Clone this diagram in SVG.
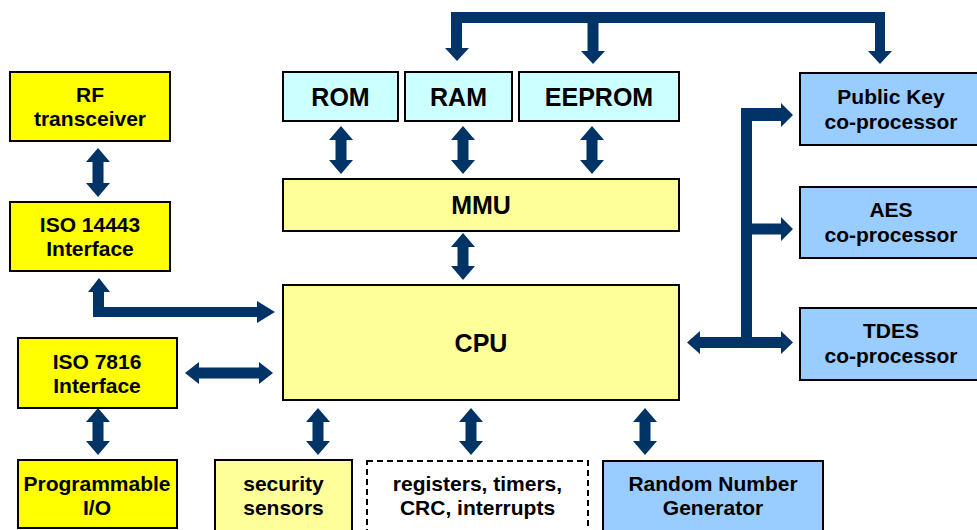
<svg xmlns="http://www.w3.org/2000/svg" width="977" height="530" viewBox="0 0 977 530">
  <style>
    .box { stroke: #000; stroke-width: 2; }
    .ifc { fill: #FFFF00; }
    .core { fill: #FFFF99; }
    .mem { fill: #CCFFFF; }
    .cop { fill: #99CCFF; }
    .dash { fill: #FFFFFF; stroke-dasharray: 6 4; }
    .lbl { font-family: "Liberation Sans", Arial, sans-serif; font-weight: bold; font-size: 21px; fill: #000; text-anchor: middle; }
    .big { font-size: 25px; }
    .arrow { fill: #003366; }
  </style>

  <rect width="977" height="530" fill="#FFFFFF"/>

  <!-- connectors (block arrows) -->
  <g id="connectors" class="arrow">
    <!-- RF transceiver <-> ISO 14443 -->
    <polygon points="98,148 110,162 103.5,162 103.5,183 110,183 98,197 86,183 92.5,183 92.5,162 86,162"/>
    <!-- ISO 14443 -> CPU (elbow) -->
    <polygon points="99,278 110,292 104,292 104,307 257,307 257,301 275,312 257,323 257,317 93,317 93,292 88,292"/>
    <!-- ISO 7816 <-> CPU -->
    <polygon points="185,373 199,362 199,367.5 259,367.5 259,362 273,373 259,384 259,378.5 199,378.5 199,384"/>
    <!-- ISO 7816 <-> Programmable I/O -->
    <polygon points="98,408 110,422 103.5,422 103.5,441 110,441 98,455 86,441 92.5,441 92.5,422 86,422"/>
    <!-- ROM <-> MMU -->
    <polygon points="341,126 353,140 346.5,140 346.5,160 353,160 341,174 329,160 335.5,160 335.5,140 329,140"/>
    <!-- RAM <-> MMU -->
    <polygon points="463,126 475,140 468.5,140 468.5,160 475,160 463,174 451,160 457.5,160 457.5,140 451,140"/>
    <!-- EEPROM <-> MMU -->
    <polygon points="592,126 604,140 597.5,140 597.5,160 604,160 592,174 580,160 586.5,160 586.5,140 580,140"/>
    <!-- MMU <-> CPU -->
    <polygon points="463,233 475,247 468.5,247 468.5,266 475,266 463,280 451,266 457.5,266 457.5,247 451,247"/>
    <!-- CPU <-> security sensors -->
    <polygon points="318,408 330,422 323.5,422 323.5,441 330,441 318,455 306,441 312.5,441 312.5,422 306,422"/>
    <!-- CPU <-> registers, timers -->
    <polygon points="471,408 483,422 476.5,422 476.5,441 483,441 471,455 459,441 465.5,441 465.5,422 459,422"/>
    <!-- CPU <-> Random Number Generator -->
    <polygon points="645,408 657,422 650.5,422 650.5,441 657,441 645,455 633,441 639.5,441 639.5,422 633,422"/>
    <!-- top bus: RAM, EEPROM, Public Key co-processor -->
    <polygon points="451,12 885,12 885,51 892,51 880,64 868,51 875,51 875,23 598.5,23 598.5,51 605,51 593,64 581,51 587.5,51 587.5,23 462,23 462,48 469,48 457,61 445,48 451,48"/>
    <!-- CPU <-> co-processor trunk -->
    <polygon points="687,342.5 700,331 700,337 741,337 741,108 781,108 781,103 793,115 781,127 781,121 752,121 752,223.5 781,223.5 781,217 793,229 781,241 781,234.5 752,234.5 752,337 781,337 781,331 793,342.5 781,354 781,348 700,348 700,354"/>
  </g>

  <!-- left column: interfaces -->
  <g id="rf-transceiver">
    <rect class="box ifc" x="10" y="72" width="160" height="69"/>
    <text class="lbl" x="90" y="102">RF</text>
    <text class="lbl" x="90" y="126">transceiver</text>
  </g>
  <g id="iso14443">
    <rect class="box ifc" x="10" y="202" width="160" height="69"/>
    <text class="lbl" x="90" y="232">ISO 14443</text>
    <text class="lbl" x="90" y="256">Interface</text>
  </g>
  <g id="iso7816">
    <rect class="box ifc" x="18" y="338" width="159" height="70"/>
    <text class="lbl" x="97" y="369">ISO 7816</text>
    <text class="lbl" x="97" y="393">Interface</text>
  </g>
  <g id="programmable-io">
    <rect class="box ifc" x="18" y="460" width="159" height="68"/>
    <text class="lbl" x="97" y="491">Programmable</text>
    <text class="lbl" x="97" y="515">I/O</text>
  </g>

  <!-- memories -->
  <g id="rom">
    <rect class="box mem" x="283" y="72" width="115" height="49"/>
    <text class="lbl big" x="340.5" y="106">ROM</text>
  </g>
  <g id="ram">
    <rect class="box mem" x="405" y="72" width="107" height="49"/>
    <text class="lbl big" x="458.5" y="106">RAM</text>
  </g>
  <g id="eeprom">
    <rect class="box mem" x="519" y="72" width="160" height="49"/>
    <text class="lbl big" x="599" y="106">EEPROM</text>
  </g>

  <!-- core -->
  <g id="mmu">
    <rect class="box core" x="283" y="179" width="396" height="52"/>
    <text class="lbl big" x="481" y="214">MMU</text>
  </g>
  <g id="cpu">
    <rect class="box core" x="283" y="285" width="396" height="115"/>
    <text class="lbl big" x="481" y="352">CPU</text>
  </g>

  <!-- co-processors -->
  <g id="public-key">
    <rect class="box cop" x="800" y="73" width="182" height="72"/>
    <text class="lbl" x="891" y="104">Public Key</text>
    <text class="lbl" x="891" y="129">co-processor</text>
  </g>
  <g id="aes">
    <rect class="box cop" x="800" y="187" width="182" height="71"/>
    <text class="lbl" x="891" y="217">AES</text>
    <text class="lbl" x="891" y="242">co-processor</text>
  </g>
  <g id="tdes">
    <rect class="box cop" x="800" y="308" width="182" height="72"/>
    <text class="lbl" x="891" y="338">TDES</text>
    <text class="lbl" x="891" y="363">co-processor</text>
  </g>

  <!-- bottom row peripherals -->
  <g id="security-sensors">
    <rect class="box core" x="215" y="460" width="137" height="72"/>
    <text class="lbl" x="283.5" y="491">security</text>
    <text class="lbl" x="283.5" y="515">sensors</text>
  </g>
  <g id="registers">
    <rect class="box dash" x="367" y="461" width="221" height="71"/>
    <text class="lbl" x="477.5" y="491">registers, timers,</text>
    <text class="lbl" x="477.5" y="515">CRC, interrupts</text>
  </g>
  <g id="rng">
    <rect class="box cop" x="603" y="461" width="220" height="71"/>
    <text class="lbl" x="713" y="491">Random Number</text>
    <text class="lbl" x="713" y="515">Generator</text>
  </g>
</svg>
